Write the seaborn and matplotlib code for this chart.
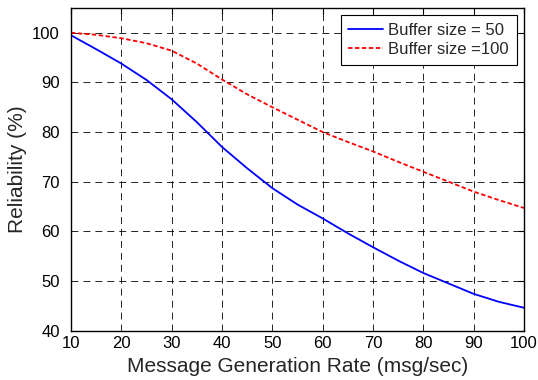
import matplotlib
matplotlib.use("Agg")
import matplotlib.pyplot as plt
import numpy as np
import pandas as pd
import seaborn as sns

# Message generation rate (msg/sec)
rate = [10, 15, 20, 25, 30, 35, 40, 45, 50, 55, 60, 65, 70, 75, 80, 85, 90, 95, 100]

# Reliability (%) for each buffer size
rel_buf50 = [99.5, 96.7, 93.8, 90.5, 86.6, 82.0, 77.0, 72.7, 68.7, 65.4, 62.6, 59.6,
             56.8, 54.1, 51.6, 49.5, 47.4, 45.8, 44.6]
rel_buf100 = [100.0, 99.6, 98.9, 97.9, 96.4, 93.8, 90.6, 87.6, 85.0, 82.5, 80.0, 78.0,
              76.1, 74.0, 72.0, 70.0, 68.0, 66.3, 64.7]

series_names = ["Buffer size = 50", "Buffer size =100"]
x_ticks = [10, 20, 30, 40, 50, 60, 70, 80, 90, 100]
y_ticks = [40, 50, 60, 70, 80, 90, 100]

df = pd.DataFrame({
    "rate": rate * 2,
    "reliability": rel_buf50 + rel_buf100,
    "series": [series_names[0]] * len(rate) + [series_names[1]] * len(rate),
})

sns.set_style("white")
plt.rcParams["font.family"] = ["Liberation Sans", "DejaVu Sans"]
plt.rcParams["lines.scale_dashes"] = False

fig = plt.figure(figsize=(5.38, 3.80), dpi=100)
ax = fig.add_axes([0.132, 0.130, 0.842, 0.849])

sns.lineplot(
    data=df, x="rate", y="reliability", hue="series", style="series",
    palette={series_names[0]: "#0000ff", series_names[1]: "#ff0000"},
    dashes={series_names[0]: "", series_names[1]: (3.2, 1.8)},
    linewidth=1.3, ax=ax, legend=False,
)

ax.set_xlim(10, 100)
ax.set_ylim(40, 105)
ax.set_xticks(x_ticks)
ax.set_yticks(y_ticks)
ax.tick_params(axis="both", direction="in", length=4, width=0.8,
               top=True, right=True, labelsize=12, colors="black")
ax.tick_params(axis="x", pad=4)
ax.tick_params(axis="y", pad=8)
ax.grid(True, color="black", linestyle=(0, (5, 3.6)), linewidth=0.6)
for sp in ax.spines.values():
    sp.set_color("black")
    sp.set_linewidth(1.0)

ax.set_xlabel("Message Generation Rate (msg/sec)", fontsize=15, labelpad=4)
ax.set_ylabel("Reliability (%)", fontsize=15, labelpad=4)

handles = ax.get_lines()[:2]
leg = ax.legend(handles, series_names, loc="upper right", fontsize=12,
                frameon=True, fancybox=False, framealpha=1, edgecolor="black",
                handlelength=2.1, handletextpad=0.3, borderpad=0.45,
                labelspacing=0.25, borderaxespad=0.45)
leg.get_frame().set_linewidth(0.8)

fig.savefig("out.png", dpi=100)
